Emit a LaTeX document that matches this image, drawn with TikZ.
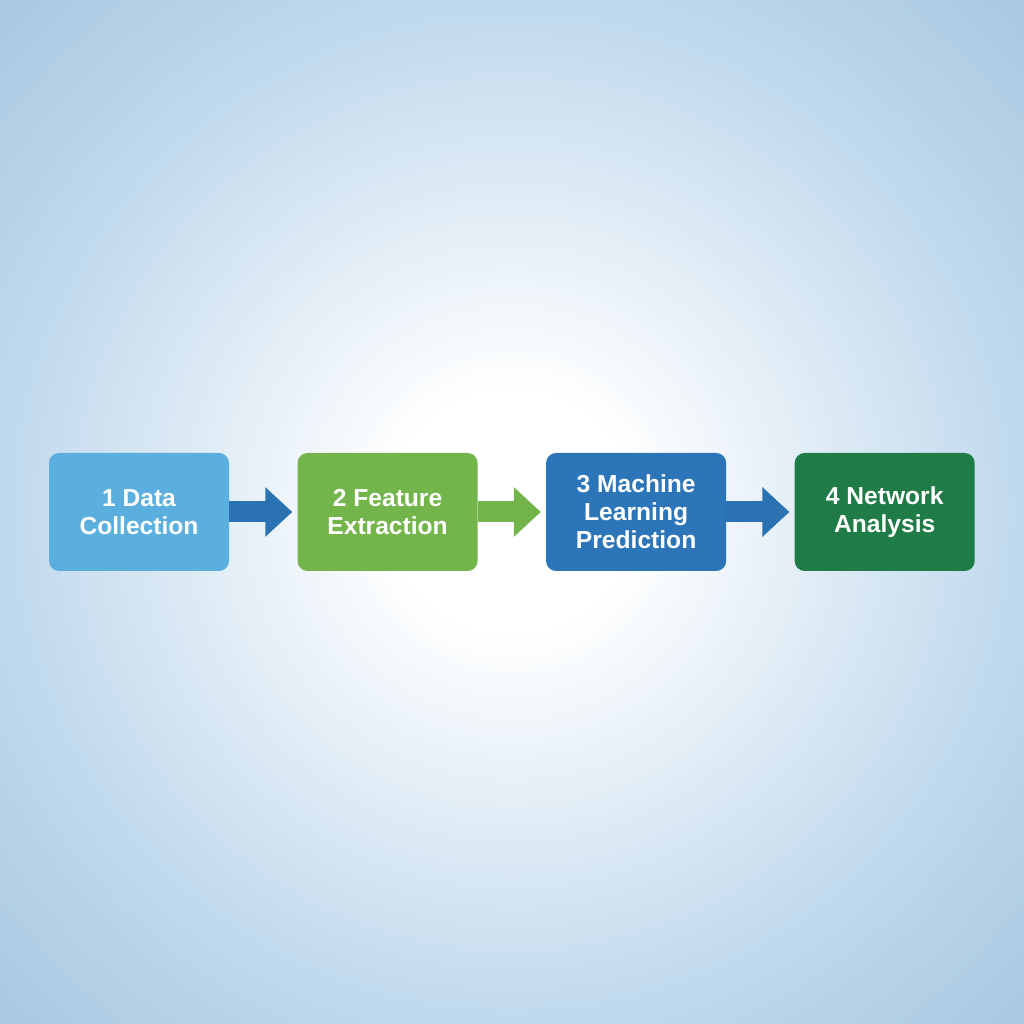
\documentclass[tikz,border=0pt]{standalone}
\usepackage{fontspec}
\setmainfont{Liberation Sans}
\usetikzlibrary{positioning,arrows.meta}
\definecolor{stepA}{HTML}{5BAFDF}
\definecolor{stepB}{HTML}{74B54B}
\definecolor{stepC}{HTML}{2B75B8}
\definecolor{stepD}{HTML}{1F7C46}
\definecolor{flowblue}{HTML}{2A72B2}
\definecolor{bgmid}{HTML}{BFD8EC}
\definecolor{bgcorner}{HTML}{A8C8E1}
% stops in real size: the page is 725.7bp wide
\pgfdeclareradialshading{bgglow}{\pgfpoint{0bp}{0bp}}{color(0bp)=(white); color(85bp)=(white); color(363bp)=(bgmid); color(514bp)=(bgcorner)}
\tikzset{
  stage/.style={rectangle, rounded corners=0.25cm, minimum width=4.5cm, minimum height=2.95cm,
    inner sep=0pt, align=center, text=white, font=\fontsize{17.5}{20}\selectfont\bfseries},
  flow/.style={line width=0.525cm, -{Triangle[length=0.675cm,width=1.2cm]}, shorten >=0.125cm}
}
\begin{document}
\begin{tikzpicture}
\useasboundingbox (0,0) rectangle (25.6,25.6);
\begin{scope}
  \clip (0,0) rectangle (25.6,25.6);
  \node[inner sep=0pt] (glow) at (12.8,12.8) {\pgfuseshading{bgglow}};
\end{scope}
\node[stage, fill=stepA] (data) at (3.475,12.8) {1 Data\\Collection};
\node[stage, fill=stepB, right=1.7cm of data] (feature) {2 Feature\\Extraction};
\node[stage, fill=stepC, right=1.7cm of feature] (predict) {3 Machine\\Learning\\Prediction};
\node[stage, fill=stepD, right=1.7cm of predict] (network) {4 Network\\Analysis};
\draw[flow, flowblue] (data) -- (feature);
\draw[flow, stepB] (feature) -- (predict);
\draw[flow, flowblue] (predict) -- (network);
\end{tikzpicture}
\end{document}
